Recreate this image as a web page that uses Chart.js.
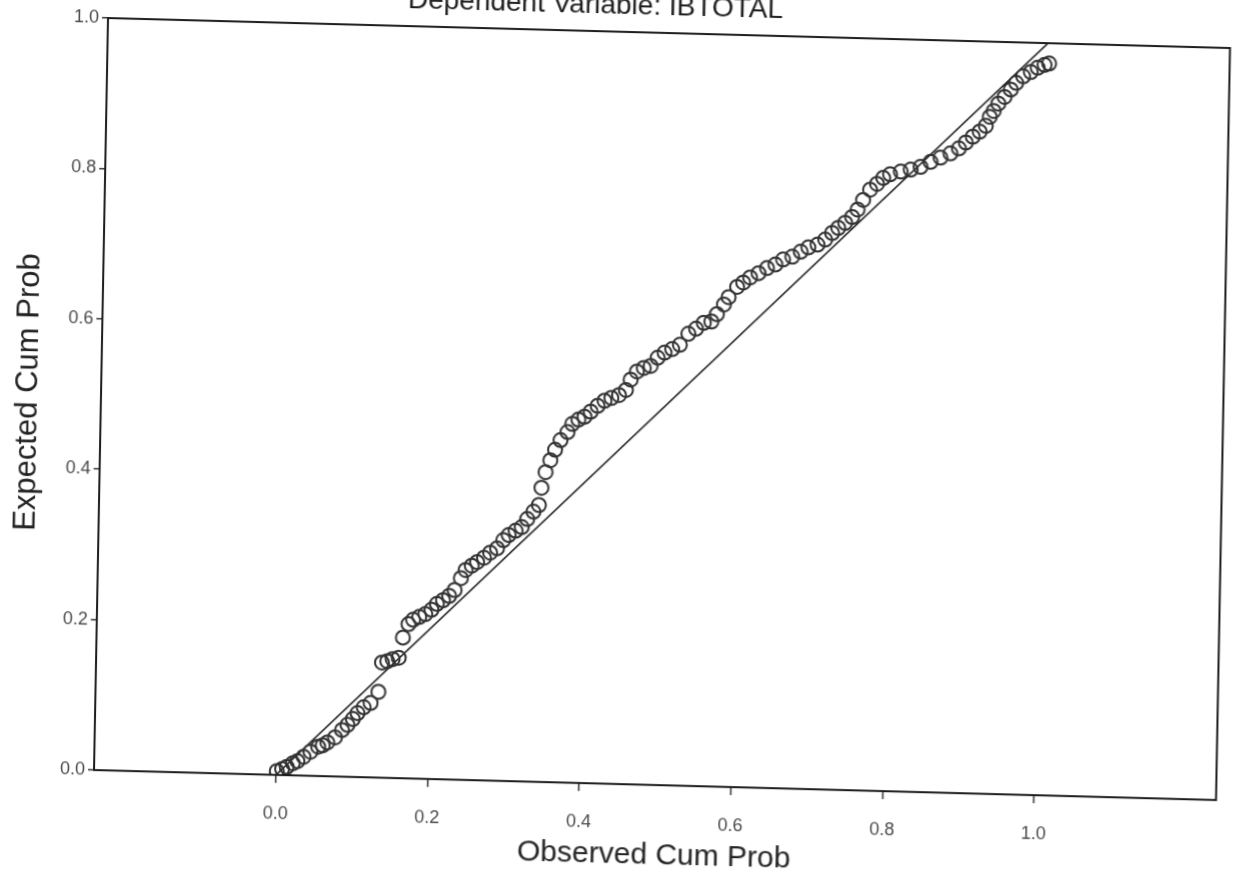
<!DOCTYPE html>
<html>
<head>
<meta charset="utf-8">
<title>Dependent Variable: IBTOTAL</title>
<script src="https://cdn.jsdelivr.net/npm/chart.js@4.4.1/dist/chart.umd.min.js"></script>
<style>
    html, body { margin: 0; padding: 0; background: #fff; overflow: hidden; }
    #wrap {
        position: absolute;
        left: 0;
        top: -44px;
        width: 1237px;
        height: 920px;
        /* the scanned page is a little sheared */
        transform-origin: 94px 814px;
        transform: matrix(1, 0.02674, -0.01862, 1, 0, 0);
    }
</style>
</head>
<body>
<div id="wrap"><canvas id="pp-plot"></canvas></div>
<script>
    var titleText = 'Dependent Variable: IBTOTAL';
    var xTitle = 'Observed Cum Prob';
    var yTitle = 'Expected Cum Prob';
    var tickValues = [0, 0.2, 0.4, 0.6, 0.8, 1.0];

    // observed cum prob (x) / expected cum prob (y)
    var observed = [
        0.001, 0.008, 0.014, 0.022, 0.028, 0.036, 0.045, 0.055, 0.061, 0.067, 0.077, 0.086, 0.093, 0.100, 0.106, 0.114, 0.123, 0.133,
        0.137, 0.144, 0.151, 0.159, 0.164, 0.171, 0.177, 0.185, 0.193, 0.201, 0.208, 0.216, 0.224, 0.231, 0.239, 0.245, 0.253, 0.260,
        0.269, 0.277, 0.286, 0.294, 0.301, 0.310, 0.318, 0.325, 0.333, 0.340,
        0.343, 0.348, 0.354, 0.360, 0.367, 0.376, 0.382, 0.390, 0.398, 0.406, 0.415, 0.424, 0.433, 0.443, 0.452, 0.458, 0.466, 0.475,
        0.484, 0.493, 0.502, 0.512, 0.522, 0.533, 0.543, 0.553, 0.563, 0.570, 0.579,
        0.585, 0.596, 0.604, 0.613, 0.624, 0.635, 0.646, 0.656, 0.668, 0.679, 0.689, 0.701, 0.711, 0.720, 0.728, 0.737, 0.746, 0.753,
        0.760, 0.769, 0.778,
        0.786, 0.795, 0.809, 0.822, 0.835, 0.848, 0.861, 0.874, 0.885, 0.894, 0.903, 0.912, 0.920, 0.925, 0.930, 0.936, 0.944, 0.952,
        0.959, 0.968, 0.978, 0.987, 0.996, 1.002
    ];
    var expected = [
        0.005, 0.008, 0.011, 0.016, 0.019, 0.025, 0.032, 0.039, 0.041, 0.045, 0.052, 0.062, 0.069, 0.077, 0.085, 0.093, 0.099, 0.114,
        0.153, 0.155, 0.158, 0.160, 0.187, 0.205, 0.211, 0.215, 0.219, 0.225, 0.233, 0.238, 0.244, 0.252, 0.268, 0.279, 0.285, 0.290,
        0.296, 0.303, 0.309, 0.320, 0.327, 0.333, 0.338, 0.349, 0.359, 0.368,
        0.391, 0.412, 0.428, 0.442, 0.455, 0.466, 0.477, 0.483, 0.487, 0.494, 0.502, 0.509, 0.513, 0.517, 0.524, 0.538, 0.549, 0.554,
        0.557, 0.568, 0.575, 0.580, 0.586, 0.601, 0.608, 0.616, 0.618, 0.628, 0.641,
        0.651, 0.665, 0.671, 0.678, 0.684, 0.691, 0.696, 0.703, 0.707, 0.714, 0.720, 0.724, 0.731, 0.740, 0.747, 0.754, 0.762, 0.772,
        0.785, 0.799, 0.807,
        0.815, 0.820, 0.824, 0.827, 0.831, 0.838, 0.844, 0.850, 0.857, 0.865, 0.873, 0.880, 0.888, 0.900, 0.908, 0.918, 0.927, 0.937,
        0.946, 0.955, 0.961, 0.967, 0.971, 0.973
    ];
    var diagonal = [0, 1];

    Chart.defaults.font.family = '"Liberation Sans", Arial, sans-serif';

    var points = [];
    observed.forEach(function (va, i) {
        points.push({x: va, y: expected[i]});
    });

    var frame = {
        id: 'frame',
        afterDatasetsDraw: function (chart) {
            var a = chart.chartArea;
            var ctx = chart.ctx;
            ctx.save();
            ctx.strokeStyle = '#1c1c1c';
            ctx.lineWidth = 2;
            ctx.strokeRect(a.left, a.top, a.right - a.left, a.bottom - a.top);
            ctx.fillStyle = '#1c1c1c';
            ctx.font = '28px "Liberation Sans", Arial, sans-serif';
            ctx.textAlign = 'center';
            ctx.textBaseline = 'alphabetic';
            ctx.fillText(titleText, (a.left + a.right) / 2 - 74, a.top - 18);
            ctx.restore();
        }
    };

    new Chart(document.getElementById('pp-plot').getContext('2d'), {
        type: 'scatter',
        data: {
            datasets: [
                {
                    data: points,
                    showLine: false,
                    pointStyle: 'circle',
                    pointRadius: 7,
                    pointBorderWidth: 2,
                    borderColor: '#303030',
                    backgroundColor: 'rgba(0,0,0,0)'
                },
                {
                    data: diagonal.map(function (v) { return {x: v, y: v}; }),
                    showLine: true,
                    borderColor: '#111',
                    borderWidth: 1.5,
                    pointRadius: 0
                }
            ]
        },
        options: {
            responsive: true,
            maintainAspectRatio: false,
            animation: false,
            layout: {
                padding: {top: 62, right: 21, bottom: 0, left: 0}
            },
            scales: {
                x: {
                    type: 'linear',
                    min: -0.24,
                    max: 1.24,
                    afterFit: function (scale) { scale.height = 106; },
                    afterBuildTicks: function (scale) {
                        scale.ticks = tickValues.map(function (v) { return {value: v}; });
                    },
                    border: {display: false},
                    grid: {
                        drawOnChartArea: false,
                        drawTicks: true,
                        tickLength: 8,
                        color: '#333',
                        lineWidth: 1.5
                    },
                    ticks: {
                        padding: 20,
                        color: '#4a4a4a',
                        font: {size: 18},
                        maxRotation: 0,
                        callback: function (val) { return val.toFixed(1); }
                    },
                    title: {
                        display: true,
                        text: xTitle,
                        color: '#222',
                        font: {size: 30},
                        padding: {top: 0, bottom: 17}
                    }
                },
                y: {
                    type: 'linear',
                    min: 0,
                    max: 1,
                    afterFit: function (scale) { scale.width = 94; },
                    afterBuildTicks: function (scale) {
                        scale.ticks = tickValues.map(function (v) { return {value: v}; });
                    },
                    border: {display: false},
                    grid: {
                        drawOnChartArea: false,
                        drawTicks: true,
                        tickLength: 6,
                        color: '#333',
                        lineWidth: 1.5
                    },
                    ticks: {
                        padding: 3,
                        color: '#4a4a4a',
                        font: {size: 18},
                        callback: function (val) { return val.toFixed(1); }
                    },
                    title: {
                        display: true,
                        text: yTitle,
                        color: '#222',
                        font: {size: 31},
                        padding: {top: 3, bottom: 0}
                    }
                }
            },
            plugins: {
                legend: {display: false},
                tooltip: {enabled: false},
                title: {display: false}
            }
        },
        plugins: [frame]
    });
</script>
</body>
</html>
